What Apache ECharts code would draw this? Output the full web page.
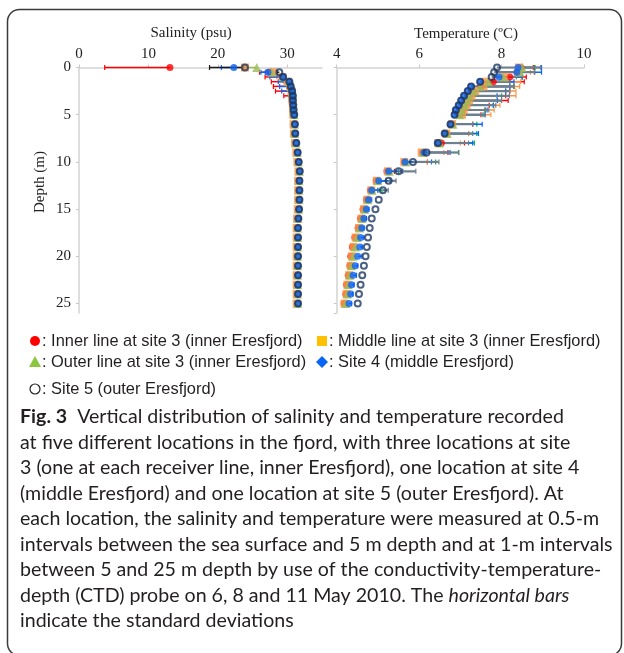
<!DOCTYPE html>
<html>
<head>
<meta charset="utf-8">
<script src="https://cdn.jsdelivr.net/npm/echarts@6/dist/echarts.min.js"></script>
<style>
html,body{margin:0;padding:0;background:#fff}
#main{width:624px;height:653px}
</style>
</head>
<body>
<div id="main"></div>
<script>
// depth levels (m): 0.5-m steps to 5 m, then 1-m steps to 25 m
var depths = [0,0.5,1,1.5,2,2.5,3,3.5,4,4.5,5,6,7,8,9,10,11,12,13,14,15,16,17,18,19,20,21,22,23,24,25];

// salinity means (psu)
var salInner  = [13.1,27.5,29.3,30.2,30.4,30.6,30.7,30.8,30.85,30.9,30.95,31.05,31.1,31.25,31.45,31.6,31.75,31.7,31.7,31.7,31.65,31.55,31.5,31.5,31.5,31.5,31.5,31.5,31.5,31.5,31.5];
var salMiddle = [23.9,27.9,29.3,30.1,30.4,30.6,30.7,30.75,30.8,30.85,30.85,30.9,30.95,31.1,31.3,31.45,31.6,31.55,31.55,31.55,31.5,31.4,31.35,31.35,31.35,31.35,31.35,31.35,31.35,31.35,31.35];
var salOuter  = [25.6,27.75,29.5,30.3,30.5,30.7,30.8,30.85,30.9,30.95,31.0,31.05,31.1,31.25,31.45,31.6,31.75,31.7,31.7,31.7,31.65,31.55,31.5,31.5,31.5,31.5,31.5,31.5,31.5,31.5,31.5];
var salSite4  = [22.3,27.2,29.4,30.3,30.5,30.7,30.8,30.8,30.85,30.9,31.0,31.1,31.15,31.3,31.5,31.65,31.8,31.75,31.75,31.75,31.7,31.6,31.55,31.55,31.55,31.55,31.55,31.55,31.55,31.55,31.55];
var salSite5  = [23.9,28.85,29.4,30.3,30.5,30.7,30.8,30.8,30.85,30.9,31.0,31.1,31.15,31.3,31.5,31.65,31.8,31.75,31.75,31.75,31.7,31.6,31.55,31.55,31.55,31.55,31.55,31.55,31.55,31.55,31.55];

// salinity standard deviations (drawn towards lower values)
var sdSalInner  = [9.4,1.5,2.5,2.5,2.4,2.3,1.2,0.5,0.3,0.15,0.1,0.05,0,0,0,0,0,0,0,0,0,0,0,0,0,0,0,0,0,0,0];
var sdSalMiddle = [1.5,1.0,0.8,0.6,0.5,0.4,0.3,0.2,0.1,0.1,0.05,0,0,0,0,0,0,0,0,0,0,0,0,0,0,0,0,0,0,0,0];
var sdSalOuter  = [1.9,0.8,0.6,0.4,0.3,0.2,0.2,0.1,0.1,0.05,0,0,0,0,0,0,0,0,0,0,0,0,0,0,0,0,0,0,0,0,0];
var sdSalSite4  = [1.8,1.0,1.9,1.6,1.6,1.5,0.6,0.3,0.2,0.1,0.05,0,0,0,0,0,0,0,0,0,0,0,0,0,0,0,0,0,0,0,0];
var sdSalSite5  = [5.1,0.3,0.3,0.2,0.2,0.1,0.1,0,0,0,0,0,0,0,0,0,0,0,0,0,0,0,0,0,0,0,0,0,0,0,0];

// temperature means (deg C)
var tmpInner  = [8.47,8.40,8.20,7.80,7.50,7.30,7.20,7.14,7.08,7.02,6.98,6.80,6.66,6.54,6.08,5.64,5.22,4.96,4.82,4.72,4.64,4.58,4.52,4.44,4.38,4.34,4.32,4.28,4.24,4.22,4.18];
var tmpMiddle = [8.42,8.40,8.05,7.62,7.56,7.36,7.27,7.21,7.15,7.08,7.04,6.80,6.66,6.46,6.06,5.64,5.24,4.97,4.84,4.74,4.66,4.60,4.54,4.46,4.41,4.37,4.34,4.30,4.26,4.24,4.19];
var tmpOuter  = [8.50,8.45,8.04,7.68,7.48,7.32,7.22,7.16,7.10,7.03,6.99,6.82,6.68,6.50,6.10,5.68,5.28,5.00,4.86,4.76,4.68,4.62,4.56,4.50,4.45,4.40,4.36,4.32,4.28,4.26,4.22];
var tmpSite4  = [8.40,8.37,7.94,7.48,7.26,7.18,7.09,7.02,6.96,6.89,6.86,6.76,6.62,6.44,6.12,5.66,5.26,5.02,4.85,4.77,4.72,4.66,4.61,4.58,4.56,4.51,4.45,4.40,4.36,4.34,4.30];
var tmpSite5  = [7.89,7.82,7.76,7.48,7.26,7.18,7.09,7.02,6.96,6.89,6.86,6.76,6.62,6.46,6.18,5.85,5.50,5.26,5.12,5.02,4.94,4.85,4.80,4.76,4.73,4.70,4.66,4.62,4.58,4.54,4.51];

// temperature standard deviations (drawn towards higher values)
var sdTmpInner  = [0.30,0.40,0.40,0.75,0.80,0.90,0.90,1.02,0.62,0.58,0.52,0.50,0.54,0.56,0.62,0.56,0.18,0.24,0.05,0,0,0,0,0,0,0,0,0,0,0,0];
var sdTmpMiddle = [0.40,0.30,0.45,0.84,0.88,0.99,1.08,0.79,0.81,0.74,0.70,0.50,0.54,0.54,0.54,0.56,0.36,0.23,0.16,0.05,0,0,0,0,0,0,0,0,0,0,0];
var sdTmpOuter  = [0.30,0.35,0.46,0.52,0.82,0.78,0.78,0.74,0.70,0.57,0.56,0.58,0.72,0.84,0.86,0.72,0.22,0.30,0.24,0.05,0,0,0,0,0,0,0,0,0,0,0];
var sdTmpSite4  = [0.57,0.60,0.56,0.82,0.94,0.92,0.80,0.88,0.84,0.76,0.74,0.77,0.82,0.86,0.63,0.64,0.34,0.28,0.15,0.08,0.06,0.06,0.05,0.08,0.06,0.10,0.06,0.08,0.06,0.05,0.06];
var sdTmpSite5  = [1.06,0.98,0.60,0.72,1.04,1.02,1.10,0.98,0.90,0.80,0.74,0.54,0.68,0.74,0.78,0.63,0.42,0.18,0.13,0,0,0,0,0,0,0,0,0,0,0,0];

// axis ticks
var salTicks = [0, 10, 20, 30];
var tmpTicks = [4, 6, 8, 10];
var depthTicks = [0, 5, 10, 15, 20, 25];

var legendNames = [
  ': Inner line at site 3 (inner Eresfjord)',
  ': Middle line at site 3 (inner Eresfjord)',
  ': Outer line at site 3 (inner Eresfjord)',
  ': Site 4 (middle Eresfjord)',
  ': Site 5 (outer Eresfjord)'
];

var captionLines = [
  '{b|Fig. 3}  Vertical distribution of salinity and temperature recorded',
  'at five different locations in the fjord, with three locations at site',
  '3 (one at each receiver line, inner Eresfjord), one location at site 4',
  '(middle Eresfjord) and one location at site 5 (outer Eresfjord). At',
  'each location, the salinity and temperature were measured at 0.5-m',
  'intervals between the sea surface and 5 m depth and at 1-m intervals',
  'between 5 and 25 m depth by use of the conductivity-temperature-',
  'depth (CTD) probe on 6, 8 and 11 May 2010. The {i|horizontal bars}',
  'indicate the standard deviations'
];

var serif = '"Liberation Serif", "Times New Roman", serif';
var sans = '"Liberation Sans", Arial, sans-serif';
var capFont = 'Lato, "Open Sans", sans-serif';
var capSize = 19.6;

var chart = echarts.init(document.getElementById('main'));

function pts(vals) {
  return vals.map(function (v, i) { return [v, depths[i]]; });
}
function bars(vals, sds) {
  var out = [];
  vals.forEach(function (v, i) {
    if (sds[i] >= 0.05) out.push([v, sds[i], depths[i]]);
  });
  return out;
}
// horizontal error bar with end cap
function errSeries(idx, vals, sds, dir, color, w) {
  return {
    type: 'custom',
    xAxisIndex: idx, yAxisIndex: idx,
    silent: true,
    z: 1,
    data: bars(vals, sds),
    encode: { x: 0, y: 2 },
    renderItem: function (params, api) {
      var x = api.value(0), sd = api.value(1), d = api.value(2);
      var p0 = api.coord([x, d]);
      var p1 = api.coord([x + dir * sd, d]);
      return {
        type: 'group',
        children: [
          { type: 'line', shape: { x1: p0[0], y1: p0[1], x2: p1[0], y2: p1[1] }, style: { stroke: color, lineWidth: w } },
          { type: 'line', shape: { x1: p1[0], y1: p1[1] - 2.5, x2: p1[0], y2: p1[1] + 2.5 }, style: { stroke: color, lineWidth: 1.2 } }
        ]
      };
    }
  };
}
function dots(idx, vals, sym, size, style, z) {
  return {
    type: 'scatter',
    xAxisIndex: idx, yAxisIndex: idx,
    silent: true,
    z: z,
    symbol: sym,
    symbolSize: size,
    itemStyle: style,
    data: pts(vals)
  };
}

var stRed = { color: '#FF0000' };
var stOrange = { color: '#F79646' };
var stGreen = { color: '#9BBB59' };
var stBlue = { color: '#0A64F5' };
var stRing = { color: 'rgba(0,0,0,0)', borderColor: '#1F3864', borderWidth: 2 };

function xAx(idx, min, max, interval, ticks) {
  return {
    type: 'value', gridIndex: idx, position: 'top',
    min: min, max: max, interval: interval,
    axisLine: { show: true, lineStyle: { color: '#d3d3d3', width: 1.5 } },
    axisTick: { show: true, length: 3, lineStyle: { color: '#c8c8c8' } },
    splitLine: { show: false },
    axisLabel: {
      margin: 6, color: '#222', fontFamily: serif, fontSize: 15,
      showMaxLabel: ticks.indexOf(max) >= 0,
      formatter: function (v) { return ticks.indexOf(v) >= 0 ? String(v) : ''; }
    }
  };
}
function yAx(idx, labels) {
  return {
    type: 'value', gridIndex: idx, inverse: true,
    min: 0, max: 26, interval: 5,
    axisLine: { show: true, lineStyle: { color: '#d3d3d3', width: 1.5 } },
    axisTick: { show: true, length: 3, lineStyle: { color: '#c8c8c8' } },
    splitLine: { show: false },
    axisLabel: {
      show: labels, margin: 8, color: '#222', fontFamily: serif, fontSize: 15,
      showMaxLabel: false,
      formatter: function (v) { return depthTicks.indexOf(v) >= 0 ? String(v) : ''; }
    }
  };
}

// legend and caption as graphic elements
var graphics = [
  { type: 'rect', shape: { x: 7.5, y: 9.5, width: 614, height: 646, r: 12 },
    style: { fill: 'none', stroke: '#3a3a3a', lineWidth: 1.5 }, silent: true },
  { type: 'text', x: 191, y: 33, style: { text: 'Salinity (psu)', font: '15px ' + serif, fill: '#222', align: 'center', verticalAlign: 'middle' } },
  { type: 'text', x: 466, y: 34, style: { text: 'Temperature (\u00baC)', font: '15px ' + serif, fill: '#222', align: 'center', verticalAlign: 'middle' } },
  { type: 'text', x: 40, y: 182, rotation: Math.PI / 2, style: { text: 'Depth (m)', font: '15px ' + serif, fill: '#222', align: 'center', verticalAlign: 'middle' } },

  { type: 'circle', shape: { cx: 35, cy: 341, r: 5 }, style: { fill: '#FF0000' } },
  { type: 'rect', shape: { x: 317, y: 336, width: 10, height: 10 }, style: { fill: '#FFC000' } },
  { type: 'polygon', shape: { points: [[35, 356], [41, 367], [29, 367]] }, style: { fill: '#8CC63F' } },
  { type: 'polygon', shape: { points: [[322, 356], [328, 362], [322, 368], [316, 362]] }, style: { fill: '#0A64F5' } },
  { type: 'circle', shape: { cx: 35, cy: 389, r: 5 }, style: { fill: '#fff', stroke: '#222', lineWidth: 1.2 } }
];
var legendPos = [[42, 341], [329, 341], [42, 362], [329, 362], [42, 389]];
legendNames.forEach(function (t, i) {
  graphics.push({ type: 'text', x: legendPos[i][0], y: legendPos[i][1],
    style: { text: t, font: '16.4px ' + sans, fill: '#231F20', verticalAlign: 'middle' } });
});
captionLines.forEach(function (t, i) {
  graphics.push({ type: 'text', x: 20, y: 417 + i * 25.5,
    style: {
      text: t, fontFamily: capFont, fontSize: capSize, fill: '#231F20', verticalAlign: 'middle',
      rich: {
        b: { fontFamily: capFont, fontSize: capSize, fontWeight: 'bold', fill: '#231F20' },
        i: { fontFamily: capFont, fontSize: capSize, fontStyle: 'italic', fill: '#231F20' }
      }
    } });
});

var option = {
  animation: false,
  grid: [
    { left: 79, top: 67.5, width: 243, height: 245.5 },
    { left: 336.7, top: 67.5, width: 247.3, height: 245.5 }
  ],
  xAxis: [ xAx(0, 0, 35, 10, salTicks), xAx(1, 4, 10, 2, tmpTicks) ],
  yAxis: [ yAx(0, true), yAx(1, false) ],
  graphic: graphics,
  series: [
    errSeries(0, salInner, sdSalInner, -1, '#FF0000', 1.5),
    errSeries(0, salMiddle, sdSalMiddle, -1, '#F79646', 1.5),
    errSeries(0, salOuter, sdSalOuter, -1, '#9BBB59', 1.5),
    errSeries(0, salSite4, sdSalSite4, -1, '#0A64F5', 1.5),
    errSeries(0, salSite5, sdSalSite5, -1, '#1a1a1a', 1.5),
    dots(0, salInner, 'circle', 7, stRed, 2),
    dots(0, salMiddle, 'rect', 8, stOrange, 3),
    dots(0, salOuter, 'triangle', 9, stGreen, 4),
    dots(0, salSite4, 'circle', 7, stBlue, 5),
    dots(0, salSite5, 'circle', 6, stRing, 6),

    errSeries(1, tmpInner, sdTmpInner, 1, '#FF0000', 1.5),
    errSeries(1, tmpMiddle, sdTmpMiddle, 1, '#F79646', 1.5),
    errSeries(1, tmpOuter, sdTmpOuter, 1, '#00B050', 1.5),
    errSeries(1, tmpSite4, sdTmpSite4, 1, '#0A64F5', 1.5),
    errSeries(1, tmpSite5, sdTmpSite5, 1, '#6E7F90', 2.2),
    dots(1, tmpInner, 'circle', 7, stRed, 2),
    dots(1, tmpMiddle, 'rect', 8, stOrange, 3),
    dots(1, tmpOuter, 'triangle', 9, stGreen, 4),
    dots(1, tmpSite4, 'circle', 7, stBlue, 5),
    dots(1, tmpSite5, 'circle', 6, stRing, 6)
  ]
};
chart.setOption(option);
</script>
</body>
</html>
